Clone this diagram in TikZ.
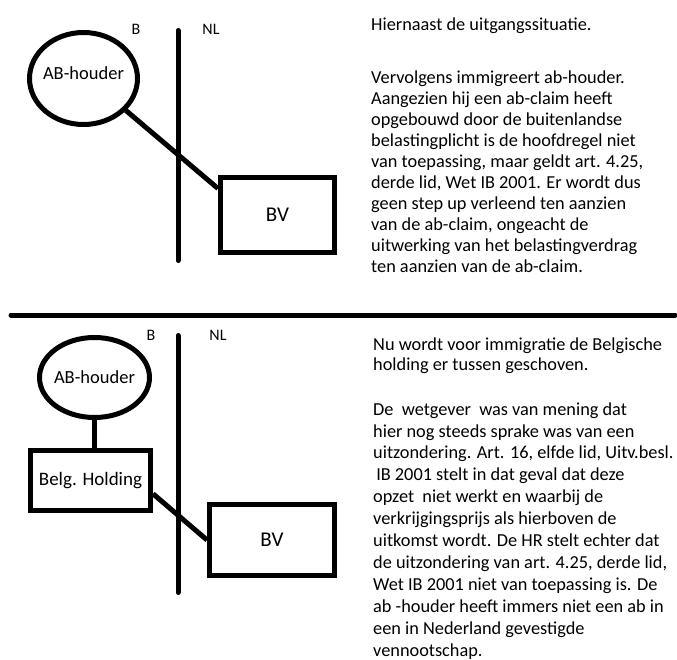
\documentclass[tikz,border=0pt]{standalone}
\usepackage{fontspec}
\setmainfont{Carlito}
\usetikzlibrary{positioning,shapes}

\begin{document}
\begin{tikzpicture}[x=1pt,y=-1pt,font=\fontsize{18.3}{21}\selectfont,
    person/.style={ellipse,draw=black,line width=5pt,inner sep=0pt},
    firm/.style={rectangle,draw=black,line width=5pt,inner sep=0pt},
    link/.style={black,line width=5pt},
    border/.style={black,line width=5pt,line cap=round},
    land/.style={font=\fontsize{16}{18}\selectfont},
    memo/.style={align=left,anchor=base west,inner sep=0pt}]
      \useasboundingbox (0,0) rectangle (677,659);

      %top: starting situation
      \node[person,minimum width=108pt,minimum height=92pt,
        label={[name=abtxt,yshift=5pt,font=\fontsize{18.5}{20}\selectfont]center:AB-houder}] (ab) at (83.5,78.5) {};
      \node[firm,minimum width=114pt,minimum height=75pt,font=\fontsize{21}{23}\selectfont] (bv) at (277.5,215) {BV};
      \coordinate (bordertop) at (178,30.5);
      \coordinate (borderbot) at (178,260.5);
      \node[land] (landB) at (136,29) {B};
      \node[land] (landNL) at (211,29) {NL};
      \draw[border] (bordertop) -- (borderbot);
      \draw[link] (ab.-37) -- (bv.156);

      %separator
      \coordinate (sepleft) at (11,315);
      \coordinate (sepright) at (675,315);
      \draw[border] (sepleft) -- (sepright);

      %bottom: holding in between
      \node[person,minimum width=110pt,minimum height=80pt,
        label={[name=ab2txt,font=\fontsize{18.5}{20}\selectfont]center:AB-houder}] (ab2) at (94.5,377.5) {};
      \node[firm,minimum width=120pt,minimum height=60pt,font=\fontsize{19}{21}\selectfont] (hold) at (90.5,480.5) {Belg. Holding};
      \node[firm,minimum width=125pt,minimum height=71pt,font=\fontsize{21}{23}\selectfont] (bv2) at (272,540) {BV};
      \coordinate (bordertop2) at (178,335.5);
      \coordinate (borderbot2) at (178,592.5);
      \node[land] (landB2) at (151,335) {B};
      \node[land] (landNL2) at (218,335) {NL};
      \draw[border] (bordertop2) -- (borderbot2);
      \draw[link] (ab2.south) -- (ab2.south |- hold.north);
      \draw[link] (hold.-12) -- (bv2.west);

      %explanation (anchored at the last baseline)
      \node[memo] (txt1) at (371,30) {Hiernaast de uitgangssituatie.};
      \node[memo] (txt2) at (371,272) {Vervolgens immigreert ab-houder.\\
        Aangezien hij een ab-claim heeft\\
        opgebouwd door de buitenlandse\\
        belastingplicht is de hoofdregel niet\\
        van toepassing, maar geldt art. 4.25,\\
        derde lid, Wet IB 2001. Er wordt dus\\
        geen step up verleend ten aanzien\\
        van de ab-claim, ongeacht de\\
        uitwerking van het belastingverdrag\\
        ten aanzien van de ab-claim.};
      \node[memo,font=\fontsize{18.3}{20}\selectfont] (txt3) at (373,370) {Nu wordt voor immigratie de Belgische\\
        holding er tussen geschoven.};
      \node[memo,font=\fontsize{18.3}{21.9}\selectfont] (txt4) at (373,656) {De~ wetgever~ was van mening dat\\
        hier nog steeds sprake was van een\\
        uitzondering. Art. 16, elfde lid, Uitv.besl.\\
        \,IB 2001 stelt in dat geval dat deze\\
        opzet~ niet werkt en waarbij de\\
        verkrijgingsprijs als hierboven de\\
        uitkomst wordt. De HR stelt echter dat\\
        de uitzondering van art. 4.25, derde lid,\\
        Wet IB 2001 niet van toepassing is. De\\
        ab -houder heeft immers niet een ab in\\
        een in Nederland gevestigde\\
        vennootschap.};

    \end{tikzpicture}
\end{document}
